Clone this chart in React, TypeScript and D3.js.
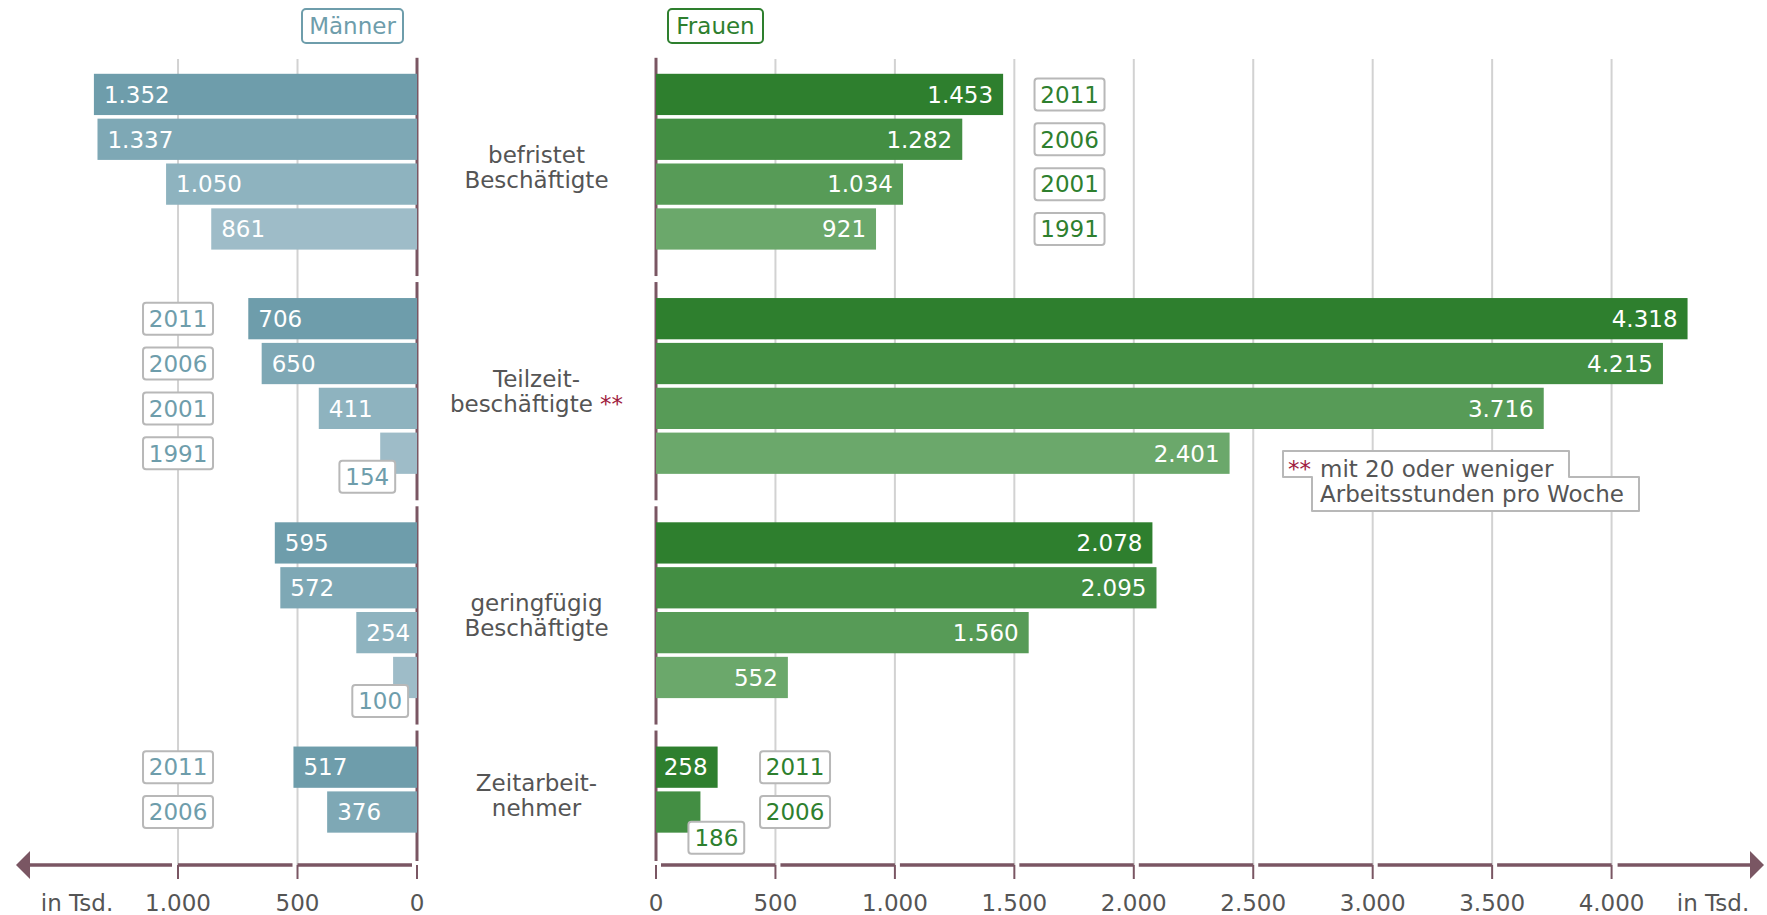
import React, { useEffect, useRef } from "react";
import * as d3 from "d3";

// group labels (two lines each)
const categories: string[][] = [
  ["befristet", "Beschäftigte"],
  ["Teilzeit-", "beschäftigte"],
  ["geringfügig", "Beschäftigte"],
  ["Zeitarbeit-", "nehmer"],
];
const years = ["2011", "2006", "2001", "1991"];

// values in thousands, order 2011, 2006, 2001, 1991
const menValues: number[][] = [
  [1352, 1337, 1050, 861],
  [706, 650, 411, 154],
  [595, 572, 254, 100],
  [517, 376],
];
const womenValues: number[][] = [
  [1453, 1282, 1034, 921],
  [4318, 4215, 3716, 2401],
  [2078, 2095, 1560, 552],
  [258, 186],
];

const menTicks = [0, 500, 1000];
const womenTicks = [0, 500, 1000, 1500, 2000, 2500, 3000, 3500, 4000];

const menColors = ["#6e9dab", "#7ea8b5", "#8eb3bf", "#9ebcc8"];
const womenColors = ["#2e7f2e", "#438e43", "#579b57", "#6ba86b"];
const MEN = "#6e9dab";
const WOMEN = "#2e7f2e";
const AXIS = "#7a5663";
const RED = "#a01c40";
const FONT = "Verdana, 'DejaVu Sans', sans-serif";

const W = 1767;
const H = 915;

const App: React.FC = () => {
  const svgRef = useRef<SVGSVGElement>(null);

  useEffect(() => {
    document.body.style.margin = "0";
    const svg = d3.select(svgRef.current);
    svg.selectAll("*").remove();

    const fmt = d3.formatLocale({
      decimal: ",",
      thousands: ".",
      grouping: [3],
      currency: ["", "€"],
    }).format(",d");

    const xL = d3.scaleLinear().domain([0, 1678]).range([417, 16]);
    const xR = d3.scaleLinear().domain([0, 4638]).range([656, 1764]);
    const y = d3
      .scaleBand<number>()
      .domain(d3.range(20))
      .range([72, 969])
      .paddingInner(0.08)
      .paddingOuter(0.04);
    const bw = y.bandwidth();
    const axisY = 865;
    const gridTop = 59;
    const fs = 23;

    // grid
    const grid = svg.append("g");
    menTicks
      .filter((t) => t > 0)
      .forEach((t) =>
        grid
          .append("line")
          .attr("x1", xL(t))
          .attr("x2", xL(t))
          .attr("y1", gridTop)
          .attr("y2", axisY)
          .attr("stroke", "#d2d2d2")
          .attr("stroke-width", 2)
      );
    womenTicks
      .filter((t) => t > 0)
      .forEach((t) =>
        grid
          .append("line")
          .attr("x1", xR(t))
          .attr("x2", xR(t))
          .attr("y1", gridTop)
          .attr("y2", axisY)
          .attr("stroke", "#d2d2d2")
          .attr("stroke-width", 2)
      );

    // zero dividers, one segment per group
    categories.forEach((_, g) => {
      const top = (y(g * 5) as number) - 16;
      const bottom = g < categories.length - 1 ? (y((g + 1) * 5) as number) - 22 : axisY - 4;
      [xL(0), xR(0)].forEach((x) =>
        svg
          .append("line")
          .attr("x1", x)
          .attr("x2", x)
          .attr("y1", top)
          .attr("y2", bottom)
          .attr("stroke", AXIS)
          .attr("stroke-width", 3)
      );
    });

    const valueBox = (
      cx: number,
      cy: number,
      text: string,
      color: string,
      w: number
    ) => {
      const h = 32;
      svg
        .append("rect")
        .attr("x", cx - w / 2)
        .attr("y", cy - h / 2)
        .attr("width", w)
        .attr("height", h)
        .attr("rx", 3)
        .attr("fill", "#fff")
        .attr("stroke", "#b8b8b8")
        .attr("stroke-width", 2);
      svg
        .append("text")
        .attr("x", cx)
        .attr("y", cy)
        .attr("dy", "0.36em")
        .attr("text-anchor", "middle")
        .attr("fill", color)
        .attr("font-size", fs)
        .attr("font-family", FONT)
        .text(text);
    };

    // bars
    categories.forEach((_, g) => {
      menValues[g].forEach((v, i) => {
        const top = y(g * 5 + i) as number;
        svg
          .append("rect")
          .attr("x", xL(v))
          .attr("y", top)
          .attr("width", xL(0) - xL(v))
          .attr("height", bw)
          .attr("fill", menColors[i]);
      });
      womenValues[g].forEach((v, i) => {
        const top = y(g * 5 + i) as number;
        svg
          .append("rect")
          .attr("x", xR(0))
          .attr("y", top)
          .attr("width", xR(v) - xR(0))
          .attr("height", bw)
          .attr("fill", womenColors[i]);
      });
    });

    // value labels
    categories.forEach((_, g) => {
      menValues[g].forEach((v, i) => {
        const top = y(g * 5 + i) as number;
        const t = fmt(v);
        if (v >= 200) {
          svg
            .append("text")
            .attr("x", xL(v) + 10)
            .attr("y", top + bw / 2)
            .attr("dy", "0.36em")
            .attr("fill", "#fff")
            .attr("font-size", fs)
            .attr("font-family", FONT)
            .text(t);
        } else {
          const w = t.length * 14.6 + 12;
          valueBox(xL(v) + 15 - w / 2, top + bw + 3, t, MEN, w);
        }
      });
      womenValues[g].forEach((v, i) => {
        const top = y(g * 5 + i) as number;
        const t = fmt(v);
        if (v >= 200) {
          svg
            .append("text")
            .attr("x", xR(v) - 10)
            .attr("y", top + bw / 2)
            .attr("dy", "0.36em")
            .attr("text-anchor", "end")
            .attr("fill", "#fff")
            .attr("font-size", fs)
            .attr("font-family", FONT)
            .text(t);
        } else {
          const w = t.length * 14.6 + 12;
          valueBox(xR(v) - 12 + w / 2, top + bw + 5, t, WOMEN, w);
        }
      });
    });

    // year labels
    const yearLabels = [
      { g: 0, side: "w", at: 1731 },
      { g: 1, side: "m", at: 1000 },
      { g: 3, side: "m", at: 1000 },
      { g: 3, side: "w", at: 582 },
    ];
    yearLabels.forEach((yl) => {
      const n = (yl.side === "m" ? menValues : womenValues)[yl.g].length;
      for (let i = 0; i < n; i++) {
        const top = y(yl.g * 5 + i) as number;
        const cx = yl.side === "m" ? xL(yl.at) : xR(yl.at);
        valueBox(cx, top + bw / 2, years[i], yl.side === "m" ? MEN : WOMEN, 70);
      }
    });

    // category labels
    const cx = (xL(0) + xR(0)) / 2;
    categories.forEach((lines, g) => {
      const n = menValues[g].length;
      const top = y(g * 5) as number;
      const bottom = (y(g * 5 + n - 1) as number) + bw;
      const mid = (top + bottom) / 2;
      lines.forEach((line, k) => {
        const tx = svg
          .append("text")
          .attr("x", cx)
          .attr("y", mid + 1 + k * 25)
          .attr("text-anchor", "middle")
          .attr("fill", "#555")
          .attr("font-size", fs)
          .attr("font-family", FONT);
        tx.append("tspan").text(line);
        if (g === 1 && k === 1) {
          tx.append("tspan").attr("fill", RED).text(" **");
        }
      });
    });

    // footnote
    const fn = [
      [1283, 451],
      [1569, 451],
      [1569, 477],
      [1639, 477],
      [1639, 511],
      [1312, 511],
      [1312, 477],
      [1283, 477],
    ] as [number, number][];
    svg
      .append("path")
      .attr("d", d3.line()(fn) + "Z")
      .attr("fill", "#fff")
      .attr("stroke", "#b8b8b8")
      .attr("stroke-width", 2)
      .attr("stroke-linejoin", "round");
    svg
      .append("text")
      .attr("x", 1288)
      .attr("y", 477)
      .attr("fill", RED)
      .attr("font-size", fs)
      .attr("font-family", FONT)
      .text("**");
    svg
      .append("text")
      .attr("x", 1320)
      .attr("y", 477)
      .attr("fill", "#555")
      .attr("font-size", fs)
      .attr("font-family", FONT)
      .text("mit 20 oder weniger");
    svg
      .append("text")
      .attr("x", 1320)
      .attr("y", 502)
      .attr("fill", "#555")
      .attr("font-size", fs)
      .attr("font-family", FONT)
      .text("Arbeitsstunden pro Woche");

    // headers
    const header = (x0: number, x1: number, text: string, color: string) => {
      svg
        .append("rect")
        .attr("x", x0)
        .attr("y", 9)
        .attr("width", x1 - x0)
        .attr("height", 34)
        .attr("rx", 4)
        .attr("fill", "#fff")
        .attr("stroke", color)
        .attr("stroke-width", 2);
      svg
        .append("text")
        .attr("x", (x0 + x1) / 2)
        .attr("y", 26)
        .attr("dy", "0.36em")
        .attr("text-anchor", "middle")
        .attr("fill", color)
        .attr("font-size", fs)
        .attr("font-family", FONT)
        .text(text);
    };
    header(xL(0) - 115, xL(0) - 14, "Männer", MEN);
    header(xR(0) + 12, xR(0) + 107, "Frauen", WOMEN);

    // axis
    const ax = svg.append("g");
    const seg = (x1: number, x2: number) =>
      ax
        .append("line")
        .attr("x1", x1)
        .attr("x2", x2)
        .attr("y1", axisY)
        .attr("y2", axisY)
        .attr("stroke", AXIS)
        .attr("stroke-width", 3.5);
    const stub = (x: number) =>
      ax
        .append("line")
        .attr("x1", x)
        .attr("x2", x)
        .attr("y1", axisY)
        .attr("y2", axisY + 14)
        .attr("stroke", AXIS)
        .attr("stroke-width", 2);
    menTicks.forEach((t, i) => {
      stub(xL(t));
      if (i > 0) seg(xL(menTicks[i - 1]) - 5, xL(t));
    });
    seg(xL(menTicks[menTicks.length - 1]) - 6, 24);
    womenTicks.forEach((t, i) => {
      stub(xR(t));
      if (i > 0) seg(xR(womenTicks[i - 1]) + 5, xR(t));
    });
    seg(xR(womenTicks[womenTicks.length - 1]) + 6, 1756);
    ax
      .append("path")
      .attr("d", `M16,${axisY} L30,${axisY - 14} L30,${axisY + 14} Z`)
      .attr("fill", AXIS);
    ax
      .append("path")
      .attr("d", `M1764,${axisY} L1750,${axisY - 14} L1750,${axisY + 14} Z`)
      .attr("fill", AXIS);

    const tickText = (x: number, t: string) =>
      ax
        .append("text")
        .attr("x", x)
        .attr("y", 911)
        .attr("text-anchor", "middle")
        .attr("fill", "#555")
        .attr("font-size", fs)
        .attr("font-family", FONT)
        .text(t);
    menTicks.forEach((t) => tickText(xL(t), fmt(t)));
    womenTicks.forEach((t) => tickText(xR(t), fmt(t)));
    tickText(77, "in Tsd.");
    tickText(1713, "in Tsd.");
  }, []);

  return (
    <svg
      ref={svgRef}
      width={W}
      height={H}
      style={{ display: "block", background: "#fff" }}
    />
  );
};

export default App;
